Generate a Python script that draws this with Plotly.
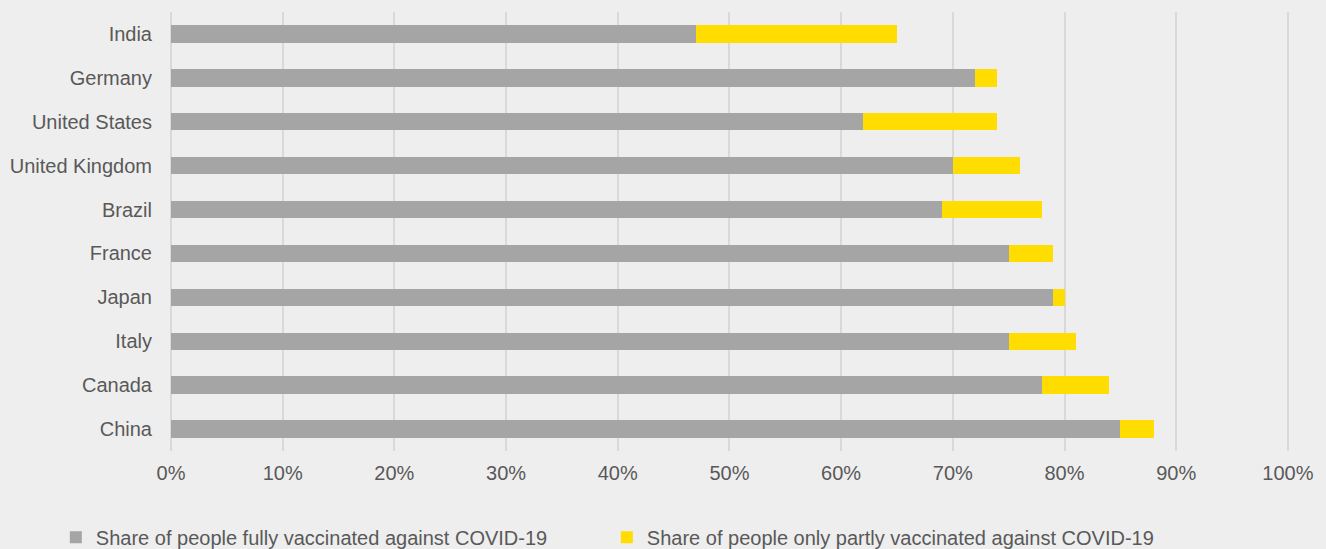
import plotly.graph_objects as go

countries = ["India", "Germany", "United States", "United Kingdom", "Brazil",
             "France", "Japan", "Italy", "Canada", "China"]
fully = [47, 72, 62, 70, 69, 75, 79, 75, 78, 85]
partly = [18, 2, 12, 6, 9, 4, 1, 6, 6, 3]

FONT = "Liberation Sans, Arial, sans-serif"
TXT = "#595959"

fig = go.Figure()
fig.add_trace(go.Bar(
    y=countries, x=fully, orientation="h",
    marker=dict(color="#A5A5A5", line=dict(width=0)),
    name="Share of people fully vaccinated against COVID-19"
))
fig.add_trace(go.Bar(
    y=countries, x=partly, orientation="h",
    marker=dict(color="#FFDD00", line=dict(width=0)),
    name="Share of people only partly vaccinated against COVID-19"
))

fig.update_layout(
    barmode="stack",
    bargap=0.605,
    width=1326, height=549,
    paper_bgcolor="#EEEEEE",
    plot_bgcolor="#EEEEEE",
    font=dict(family=FONT, size=20, color=TXT),
    margin=dict(l=171, r=37, t=12, b=98, autoexpand=False),
    xaxis=dict(
        range=[0, 100.1], dtick=10, ticksuffix="%",
        showgrid=True, gridcolor="#D9D9D9", gridwidth=2,
        zeroline=True, zerolinecolor="#D9D9D9", zerolinewidth=2,
        ticklabelstandoff=8, tickfont=dict(size=20, color=TXT),
        fixedrange=True,
    ),
    yaxis=dict(
        autorange="reversed", showgrid=False, zeroline=False,
        ticklabelstandoff=18, tickfont=dict(size=20, color=TXT),
    ),
    legend=dict(
        orientation="h", x=-0.103, xanchor="left", y=-0.152, yanchor="top",
        entrywidth=506, entrywidthmode="pixels", itemwidth=30,
        traceorder="normal",
        font=dict(size=20, color=TXT), bgcolor="rgba(0,0,0,0)",
    ),
)

fig.write_html("out.html", config={"displayModeBar": False},
               post_script="document.body.style.margin='0';")
